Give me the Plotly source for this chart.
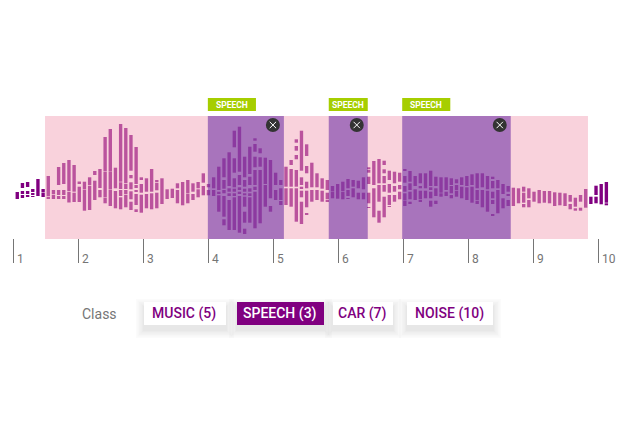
import plotly.graph_objects as go

# x axis: seconds, y axis: amplitude (both scaled so the page is 624x424)
tick_values = [1, 2, 3, 4, 5, 6, 7, 8, 9, 10]
tick_labels = ["1", "2", "3", "4", "5", "6", "7", "8", "9", "10"]

clip_start = 1.485
clip_end = 9.838
speech_starts = [3.99, 5.85, 6.98]
speech_ends = [5.16, 6.45, 8.65]
speech_label = "SPEECH"

class_title = "Class"
class_names = ["MUSIC (5)", "SPEECH (3)", "CAR (7)", "NOISE (10)"]
selected_class = "SPEECH (3)"

first_frame = 1.058
frame_step = 0.0795

# one row per frame: hi, lo, hi, lo ... of the blocks in that frame
frames = [
    [0, -3, -3.5, -5, -5.5, -7],
    [9, 4, 1, -2, -3, -6],
    [10, 5, 1, -2, -3, -5],
    [3, 0, -1, -3, -4, -5],
    [13, -4],
    [3, 0, -0.5, -3, -3.5, -5],
    [16, -4, -4.7, -6.5],
    [2, -2, -2.7, -5, -5.5, -7],
    [25, 7, 2, -3, -4, -7],
    [29, 8, 2, -3, -4, -7],
    [32, 1, 0.3, -10.5],
    [27, 0.3, -0.7, -10],
    [10.5, 8, 5.3, -10],
    [10.3, 2.5, 2, -18.7],
    [14.7, 6.7, 6, -18],
    [21, 17, 11.3, -8],
    [23, 4, 2, -5.3],
    [55, 20.5, 20, -5.3, -5.7, -11.3],
    [63, 20.3, 20, 2.5, 2, -14],
    [24.3, 3.7, 1, -16.3],
    [68, 10.3, 9.7, 3, 2, -4, -5.3, -17.3],
    [64, 8.7, 8, 3, 2, -2, -2.7, -15.3],
    [57, 21.3, 17, 13.7, 9.7, 2.7, 0.7, -7.3, -9.7, -18],
    [45, 8, 7, 4, 2, 0, -2, -13, -17.3, -20],
    [14.7, 12, 8, -0.7, -2.7, -20.7],
    [13.7, 0.3, -2, -16.3],
    [23, 0.3, -1.3, -17.3],
    [12, 10.3, 9.3, 1.7, -0.7, -16.3],
    [13.7, -12],
    [2.7, -7],
    [3.3, -6],
    [8.7, 3.7, 2, -11.3],
    [10, -13.3],
    [12, -1, -1.5, -11.3],
    [8.7, 0.3, -2, -8],
    [10, 3.7, 2.7, -5.3],
    [18.7, 9.3, 6, -3.3],
    [8, 4.7, 2, -3.3],
    [14.7, 3.7, 2, -4],
    [25.3, 2, 0.3, -2, -3.3, -19.7],
    [33.7, 14.7, 12, 3.3, 2, -1.3, -4, -24.7, -27.3, -33.3],
    [39.7, 6, 3.7, 0.3, -1.3, -4, -8, -38],
    [61.3, 44.7, 33.7, 19.3, 13.7, 4.7, 3.3, 0.3, -1.3, -4, -5.3, -38],
    [65.3, 20.3, 17, 7, 4.7, 2, 0.3, -2, -4, -40.7],
    [35.3, 14.7, 12, 5.3, 3.3, 0.3, -1.3, -3.3, -4.7, -14.7, -19.7, -30.7, -36.7, -42],
    [45.3, 18, 15.3, 7, 3.7, 0.3, -1.3, -4, -5.3, -30.7],
    [53.7, 51.3, 48, 40.3, 35.3, 24.7, 22, 7, 5.3, 2, 0.3, -36.3],
    [43.7, 38.7, 34.7, 25.3, 22, -31.3],
    [34.3, 8, 7, -14.7],
    [32, -6.3, -14, -19.7],
    [19.3, 7, 2, -8],
    [12, 7, 3.7, -8, -9, -13],
    [25.3, 5.3, 3.7, -13],
    [32, 27, 23, 5.3, 3.7, -14.7],
    [52.7, 49.3, 46, 41.3, 37, 32.7, 22, 5.3, 3.7, -29.7],
    [61.3, 21.3, 14.7, 7, 5.3, 3.7, 1.3, -5.3, -9.7, -32],
    [47.7, 36, 26, 18.7, 10.3, 3.7, 1.3, -15.3, -21.3, -23],
    [29.3, 4.7, 2, -9.7],
    [18.7, 4.7, 2, -8],
    [13.7, 3.3, 1.3, -9.7],
    [12, 2, -0.7, -7.3, -8, -9.3],
    [6, 1, 0.5, -6.3],
    [8, -6.7],
    [10.3, 1, 0.3, -7.3],
    [13, 3.7, 2, -4, -6, -7],
    [12, 5.3, 3.7, -5.3],
    [11.3, 3.7, -0.7, -7.3],
    [14.7, 2.7, -0.7, -7.3],
    [24.7, 22.7, 22, 19.3, 15.3, 8, -0.7, -11.3, -15.3, -16],
    [31, 7, 3.7, -25.3],
    [33, 8.7, 7, -9.7, -18.7, -30.7],
    [31.3, 27, 22.7, 18.7, 16, 8.7, 7, 0.3, -4.7, -25.3],
    [21.3, 12, 8, -0.7, -3, -13, -14.5, -15],
    [20.3, 8.7, 6, 0.3, -3, -9.7],
    [19.3, 10.3, 7, 2.7, 0.3, -7.3],
    [22.7, 21.3, 16, 9.3, 6, 0.3, -1.3, -8, -8.5, -14],
    [21, 10.3, 8.7, 2, 0.3, -7.3, -9.7, -11.3],
    [16, 6, 2.7, -8],
    [18.7, 8.7, 6, 3.7, 1.3, -7.3, -8.7, -9.7],
    [18.7, 3.7, 1.3, -6.3],
    [21.3, 6, 4.7, 2, 0.3, -6.3, -8.7, -14.7],
    [15.3, 6, 3.7, -4, -8.7, -12],
    [14.7, -0.7, -1.3, -4.7],
    [14.7, 2, 0.3, -4],
    [13.7, 7, 6, -1.3, -3, -6.3],
    [12.7, 8.7, 7, 2, 1.3, -4.7],
    [14.7, 7, 5.3, -6.3],
    [16, 6, 4.7, -8],
    [17.7, 7, 5.3, -10.7],
    [18.7, 3.7, 2, -8, -8.7, -12],
    [18.7, 4.7, 2, -15.3],
    [16, 2.7, 1.3, -19.7],
    [15.3, 13.7, 11, 3.7, 0.3, -6.3, -8, -12, -22, -23.3],
    [12, 3.7, 2, -21.3],
    [8, -2, -6.3, -16.3],
    [6, 0.3, -2, -4, -8, -14],
    [4.3, -14],
    [3.7, -11.3],
    [5.3, 0.3, -0.7, -10.7, -12, -15.3],
    [3.7, -6.3, -8, -15.3],
    [0.3, -9.7],
    [2, -11.3],
    [1, -10.7],
    [1, -11.3],
    [-0.3, -14],
    [-0.7, -13.3],
    [-1.3, -14],
    [-3, -9.7, -12, -17.3],
    [-5.7, -14.7, -16.3, -18.7],
    [-3, -9.7, -15.7, -18.7],
    [3, -15.7],
    [-4.7, -12],
    [6.3, -3, -4.7, -11.3],
    [8, -12.3],
    [10, -10.7, -11.3, -13.3],
]

PURPLE = "#800080"
GREEN = "#a6ce00"
GREY = "#757575"
FONT = "Roboto"

WIDTH, HEIGHT = 624, 424
# pixel of x=1 and of amplitude 0
X0_PX, PX_PER_SEC, Y0_PX = 13.5, 65.0, 192.0


def px_x(px):
    return px / WIDTH


def px_y(px):
    return 1 - px / HEIGHT


def box(x0, y0, x1, y1, color, layer="above", kind="rect"):
    return dict(type=kind, xref="paper", yref="paper", x0=px_x(x0), x1=px_x(x1),
                y0=px_y(y1), y1=px_y(y0), fillcolor=color, line_width=0, layer=layer)


# flatten the frames into single bars
bar_x, bar_base, bar_height = [], [], []
for i, blocks in enumerate(frames):
    for hi, lo in zip(blocks[0::2], blocks[1::2]):
        bar_x.append(first_frame + i * frame_step)
        bar_base.append(lo)
        bar_height.append(hi - lo)

fig = go.Figure(go.Bar(x=bar_x, y=bar_height, base=bar_base, width=0.052,
                       marker=dict(color=PURPLE, line_width=0), hoverinfo="skip"))

shapes = []
annotations = []

# clip band and speech regions sit over the bars and tint them
shapes.append(dict(type="rect", xref="x", yref="paper", x0=clip_start, x1=clip_end,
                   y0=px_y(239), y1=px_y(116), fillcolor="rgba(243,165,185,0.5)",
                   line_width=0, layer="above"))

for start, end in zip(speech_starts, speech_ends):
    shapes.append(dict(type="rect", xref="x", yref="paper", x0=start, x1=end,
                       y0=px_y(239), y1=px_y(116), fillcolor="rgba(102,39,162,0.55)",
                       line_width=0, layer="above"))
    badge_end = min(start + 0.74, end)
    shapes.append(dict(type="rect", xref="x", yref="paper", x0=start, x1=badge_end,
                       y0=px_y(111), y1=px_y(98), fillcolor=GREEN, line_width=0, layer="above"))
    annotations.append(dict(x=(start + badge_end) / 2, y=px_y(105), xref="x", yref="paper",
                            text=speech_label, showarrow=False, xanchor="center", yanchor="middle",
                            font=dict(family=FONT, size=8.5, color="white", weight=700)))
    # close button
    cx = X0_PX + (end - 1) * PX_PER_SEC - 11
    shapes.append(box(cx - 7, 118, cx + 7, 132, "#333333", kind="circle"))
    for sign in (1, -1):
        shapes.append(dict(type="line", xref="paper", yref="paper",
                           x0=px_x(cx - 3.2), x1=px_x(cx + 3.2),
                           y0=px_y(125 - 3.2 * sign), y1=px_y(125 + 3.2 * sign),
                           line=dict(color="white", width=1), layer="above"))

# ticks with the number just right of the line
for value, label in zip(tick_values, tick_labels):
    shapes.append(dict(type="line", xref="x", yref="paper", x0=value, x1=value,
                       y0=px_y(263), y1=px_y(239), line=dict(color=GREY, width=1), layer="above"))
    annotations.append(dict(x=value, y=px_y(259), xref="x", yref="paper", text=label,
                            showarrow=False, xanchor="left", yanchor="middle", xshift=1,
                            font=dict(family=FONT, size=12, color=GREY)))

annotations.append(dict(x=px_x(80), y=px_y(314), xref="paper", yref="paper", text=class_title,
                        showarrow=False, xanchor="left", yanchor="middle",
                        font=dict(family=FONT, size=14, color=GREY)))

# class buttons, the soft shadow is a few see-through rectangles
button_left = [144, 237, 333, 407]
button_right = [226, 324, 393, 493]
for name, x0, x1 in zip(class_names, button_left, button_right):
    for grow in (8, 6.5, 5, 3.5, 2, 1):
        shapes.append(box(x0 - grow, 302 + 5 - grow, x1 + grow, 325 + 5 + grow, "rgba(0,0,0,0.017)"))
    active = name == selected_class
    shapes.append(box(x0, 302, x1, 325, PURPLE if active else "white"))
    annotations.append(dict(x=px_x((x0 + x1) / 2) - 0.0016, y=px_y(313), xref="paper", yref="paper",
                            text=name, showarrow=False, xanchor="center", yanchor="middle",
                            font=dict(family=FONT, size=14, weight=500,
                                      color="white" if active else PURPLE)))

fig.update_layout(
    width=WIDTH,
    height=HEIGHT,
    margin=dict(l=0, r=0, t=0, b=0),
    paper_bgcolor="white",
    plot_bgcolor="white",
    showlegend=False,
    barmode="overlay",
    shapes=shapes,
    annotations=annotations,
)
fig.update_xaxes(range=[1 - X0_PX / PX_PER_SEC, 1 + (WIDTH - X0_PX) / PX_PER_SEC], visible=False)
fig.update_yaxes(range=[Y0_PX - HEIGHT, Y0_PX], visible=False)

fig.write_html("out.html", config={"displayModeBar": False},
               post_script="document.body.style.margin = '0';")
